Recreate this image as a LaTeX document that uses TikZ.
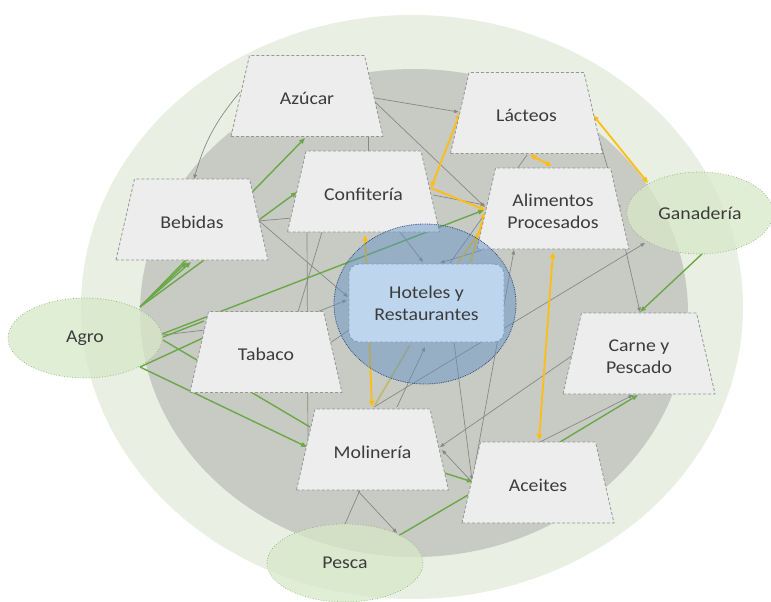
\documentclass[tikz,border=0pt]{standalone}
\usepackage{fontspec}
\setmainfont{Carlito}[FakeStretch=1.1]
\usetikzlibrary{shapes.geometric,arrows.meta,calc}
\pgfdeclarelayer{back}
\pgfdeclarelayer{lines}
\pgfdeclarelayer{shapes}
\pgfsetlayers{back,lines,shapes,main}
\definecolor{outerfill}{RGB}{233,239,226}
\definecolor{innerfill}{RGB}{200,202,196}
\definecolor{trapfill}{RGB}{237,237,237}
\definecolor{trapline}{RGB}{150,150,150}
\definecolor{txt}{RGB}{60,60,60}
\definecolor{grayline}{RGB}{135,137,135}
\definecolor{greenline}{RGB}{106,168,72}
\definecolor{orangeline}{RGB}{255,189,20}
\definecolor{oliveline}{RGB}{196,186,110}
\definecolor{circfill}{RGB}{95,145,198}
\definecolor{circline}{RGB}{46,74,122}
\definecolor{boxfill}{RGB}{189,214,238}
\definecolor{boxline}{RGB}{130,160,200}
\definecolor{ellfill}{RGB}{215,232,200}
\definecolor{ellline}{RGB}{140,176,115}
\newcommand\linkit[5]{\draw[#1] ([shift={#3}]#2.center) -- ([shift={#5}]#4.center);}
\newcommand\sectxt[1]{\raisebox{-4.5pt}[\height][\depth]{\begin{tabular}{@{}c@{}}#1\end{tabular}}}
\begin{document}
\begin{tikzpicture}[x=1pt,y=-1pt,
  sector/.style={rectangle, minimum width=152pt, minimum height=81pt, inner sep=0pt,
    text=txt, font=\fontsize{18}{22}\selectfont},
  trapdraw/.style={fill=trapfill, draw=trapline, line width=0.8pt, dash pattern=on 3pt off 2pt},
  source/.style={ellipse, fill=ellfill, fill opacity=0.75, text opacity=1,
    draw=ellline, line width=0.7pt, dotted, text=txt,
    font=\fontsize{18}{22}\selectfont},
  hcircle/.style={ellipse, fill=circfill, fill opacity=0.47, draw=circline,
    draw opacity=1, line width=0.8pt, densely dotted},
  hbox/.style={rectangle, rounded corners=10pt, fill=boxfill, draw=boxline,
    line width=0.9pt, dash pattern=on 3pt off 2pt, text=txt, align=center,
    font=\fontsize{18}{22}\selectfont},
  gline/.style={draw=grayline, line width=0.7pt, -{Triangle[length=4.5pt,width=3.5pt]}},
  gplain/.style={draw=grayline, line width=0.7pt},
  grn/.style={draw=greenline, line width=1.4pt, -{Triangle[length=6pt,width=4.5pt]}},
  grnplain/.style={draw=greenline, line width=1.4pt},
  org/.style={draw=orangeline, line width=1.8pt, -{Triangle[length=6pt,width=5pt]}},
  orgboth/.style={draw=orangeline, line width=1.8pt, {Triangle[length=6pt,width=5pt]}-{Triangle[length=6pt,width=5pt]}},
  oliv/.style={draw=oliveline, line width=1.8pt}
]
\useasboundingbox (0,0) rectangle (771,602);
\begin{pgfonlayer}{back}
  \fill[outerfill] (412,307) ellipse [x radius=331, y radius=292];
  \fill[innerfill] (414,313) ellipse [x radius=274, y radius=244];
\end{pgfonlayer}

% Hoteles
\node[hcircle, minimum width=182pt, minimum height=160pt] (hcirc) at (425,304) {};
\node[hbox, minimum width=155pt, minimum height=78pt] (hot) at (426.5,303) {Hoteles y\\Restaurantes};

% sectors
\node[sector] (azu) at (307,96) {\sectxt{Azúcar}};
\node[sector] (lac) at (526.5,113) {\sectxt{Lácteos}};
\node[sector] (conf) at (363.5,191.5) {\sectxt{Confitería}};
\node[sector] (beb) at (192,219.5) {\sectxt{Bebidas}};
\node[sector] (ali) at (553,208.5) {\sectxt{Alimentos\\Procesados}};
\node[sector] (tab) at (266,352) {\sectxt{Tabaco}};
\node[sector] (car) at (639,353.5) {\sectxt{Carne y\\Pescado}};
\node[sector] (mol) at (372.5,449.5) {\sectxt{Molinería}};
\node[sector] (ace) at (538,482.5) {\sectxt{Aceites}};

% sources
\node[source, minimum width=154pt, minimum height=80pt] (agro) at (85,338) {Agro};
\node[source, minimum width=146pt, minimum height=82pt] (gan) at (700,213) {Ganadería};
\node[source, minimum width=156pt, minimum height=78pt] (pes) at (345,563) {Pesca};

\begin{pgfonlayer}{shapes}
  \foreach \n in {azu,lac,conf,beb,ali,tab,car,mol,ace}
    \draw[trapdraw] ([shift={(-76,40.5)}]\n.center) -- ([shift={(-57.5,-40.5)}]\n.center)
      -- ([shift={(57.5,-40.5)}]\n.center) -- ([shift={(76,40.5)}]\n.center) -- cycle;
\end{pgfonlayer}

\begin{pgfonlayer}{lines}
  % gray links
  \draw[gline] ([shift={(-67,-4)}]azu.center) to[bend right=12] ([shift={(2,-40.5)}]beb.center);
  \linkit{gline}{azu}{(68,2)}{lac}{(-68,-1)}
  \linkit{gline}{azu}{(68,6)}{ali}{(-68,-1.5)}
  \linkit{gplain}{azu}{(61,40)}{conf}{(4.5,-40.5)}
  \linkit{gline}{lac}{(71.5,22)}{ali}{(67,1.5)}
  \linkit{gline}{ali}{(72,38.5)}{car}{(1,-41.5)}
  \linkit{gline}{mol}{(1.5,-42.5)}{gan}{(-55,30)}
  \linkit{gline}{car}{(-66,1.5)}{mol}{(67.5,-2.5)}
  \linkit{gline}{ace}{(-66,-0.5)}{mol}{(69.5,0.5)}
  \linkit{gline}{hot}{(27.5,39)}{ace}{(-66,-2.5)}
  \linkit{gline}{ace}{(-66,-0.5)}{ali}{(-39,41.5)}
  \linkit{gline}{ace}{(2,-40.5)}{car}{(-6,41.5)}
  \linkit{gline}{mol}{(-15.5,40.5)}{pes}{(52,-30)}
  \linkit{gplain}{pes}{(0,-39)}{mol}{(-12.5,40.5)}
  \linkit{gline}{mol}{(24.5,-42.5)}{hot}{(-1.5,44)}
  \linkit{gline}{beb}{(66,0.5)}{hot}{(-78.5,-6)}
  \linkit{gplain}{beb}{(66,1.5)}{conf}{(-71.5,26.5)}
  \linkit{gplain}{conf}{(-56.5,40.5)}{mol}{(-64.5,-4.5)}
  \linkit{gplain}{conf}{(-41.5,40.5)}{tab}{(32,-40)}
  \linkit{gline}{tab}{(51,-40)}{hot}{(-79.5,-3)}
  \linkit{gplain}{tab}{(64,-9)}{hot}{(-77.5,27)}
  \linkit{gline}{conf}{(36.5,40.5)}{hot}{(-3.5,-41)}
  \linkit{gline}{ali}{(-71,41.5)}{hot}{(13.5,-40)}
  \linkit{gplain}{lac}{(0.5,42)}{hot}{(23.5,-40)}
  \linkit{gline}{conf}{(69.5,3.5)}{ali}{(-68,-3.5)}
  \linkit{gplain}{agro}{(78,-3)}{tab}{(-61,-22)}
  % green links
  \linkit{grn}{agro}{(55,-31)}{beb}{(-5,42.5)}
  \linkit{grn}{agro}{(57,-33)}{beb}{(-1,42.5)}
  \linkit{grn}{agro}{(55,-31)}{azu}{(-2,42)}
  \linkit{grn}{agro}{(55,-31)}{conf}{(-66.5,0.5)}
  \linkit{grn}{agro}{(77,-4)}{ali}{(-69,1.5)}
  \linkit{grnplain}{agro}{(78,-1)}{tab}{(-62,-31)}
  \linkit{grnplain}{agro}{(55,29)}{tab}{(-63,-14)}
  \linkit{grnplain}{agro}{(78,2)}{mol}{(-62.5,-22.5)}
  \linkit{grn}{agro}{(55,29)}{mol}{(-65.5,-2.5)}
  \linkit{grn}{gan}{(3,40)}{car}{(1,-41.5)}
  \linkit{grn}{ace}{(22,-40.5)}{car}{(-1,41.5)}
  \linkit{grn}{mol}{(72,23.5)}{ace}{(-65,-0.5)}
  \linkit{grnplain}{pes}{(53,-27)}{ace}{(-70,12.5)}
  % orange links
  \linkit{orgboth}{conf}{(67.5,-3.5)}{lac}{(-66.5,0)}
  \linkit{org}{conf}{(67.5,-3.5)}{ali}{(-68,1.5)}
  \linkit{org}{hot}{(43.5,-40)}{ali}{(-68,3.5)}
  \linkit{org}{hot}{(31.5,-40)}{ali}{(-67,13.5)}
  \linkit{orgboth}{lac}{(3.5,42)}{ali}{(-1,-42.5)}
  \linkit{orgboth}{lac}{(66.5,2)}{gan}{(-52,-30)}
  \linkit{orgboth}{ali}{(0,43.5)}{ace}{(1,-42.5)}
  \linkit{orgboth}{conf}{(1.5,43.5)}{mol}{(-0.5,-42.5)}
  \linkit{oliv}{mol}{(2.5,-44.5)}{hot}{(-16.5,42)}
\end{pgfonlayer}
\end{tikzpicture}
\end{document}
